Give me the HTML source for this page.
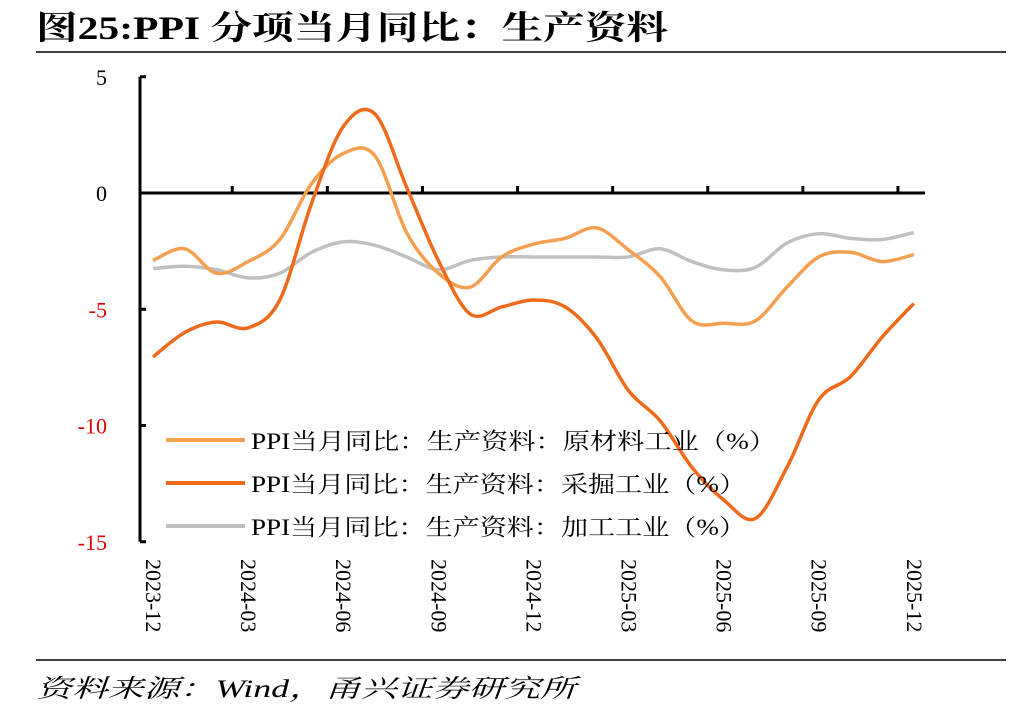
<!DOCTYPE html>
<html><head><meta charset="utf-8">
<style>
body{margin:0;background:#fff;width:1012px;height:706px;overflow:hidden;font-family:"Liberation Serif","Noto Serif CJK SC",serif;}
svg text{font-family:"Liberation Serif","Noto Serif CJK SC",serif;}
</style></head>
<body>
<svg id="chart" width="1012" height="706" xmlns="http://www.w3.org/2000/svg">
<text x="36" y="39" font-size="33" font-weight="bold" fill="#000" textLength="632" lengthAdjust="spacingAndGlyphs">图25:PPI 分项当月同比：生产资料</text>
<line x1="36" y1="52" x2="1006" y2="52" stroke="#000" stroke-width="1.5"/>
<line x1="36" y1="660" x2="1006" y2="660" stroke="#000" stroke-width="1.5"/>
<text x="36" y="697" font-size="25" font-style="italic" fill="#000" textLength="540" lengthAdjust="spacingAndGlyphs">资料来源：Wind，甬兴证券研究所</text>
<g id="plot"></g>
</svg>
<script>
const categories=["2023-12","2024-01","2024-02","2024-03","2024-04","2024-05","2024-06","2024-07","2024-08","2024-09","2024-10","2024-11","2024-12","2025-01","2025-02","2025-03","2025-04","2025-05","2025-06","2025-07","2025-08","2025-09","2025-10","2025-11","2025-12"];
const rawMaterials=[-2.9,-2.4,-3.45,-2.95,-2.0,0.4,1.7,1.6,-1.7,-3.45,-4.05,-2.75,-2.2,-1.95,-1.5,-2.45,-3.6,-5.5,-5.6,-5.5,-4.05,-2.75,-2.55,-2.95,-2.65];
const mining=[-7.05,-6.0,-5.55,-5.8,-4.6,-0.45,2.85,3.4,0.25,-2.9,-5.2,-4.9,-4.6,-4.9,-6.25,-8.5,-9.8,-11.8,-13.2,-14.0,-11.8,-8.9,-7.9,-6.2,-4.75];
const processing=[-3.25,-3.15,-3.3,-3.65,-3.45,-2.55,-2.1,-2.25,-2.75,-3.3,-2.9,-2.75,-2.75,-2.75,-2.75,-2.75,-2.4,-2.95,-3.3,-3.2,-2.15,-1.75,-1.95,-2.0,-1.7];
const yTicks=[5,0,-5,-10,-15];
const seriesNames=["PPI当月同比：生产资料：原材料工业（%）","PPI当月同比：生产资料：采掘工业（%）","PPI当月同比：生产资料：加工工业（%）"];

const NS="http://www.w3.org/2000/svg";
const g=document.getElementById('plot');
const X0=153,DX=31.7,AXX=140;
const xPos=i=>X0+DX*i;
const yPos=v=>193-v*23.25;
function mk(tag,attrs,parent){const e=document.createElementNS(NS,tag);for(const k in attrs)e.setAttribute(k,attrs[k]);(parent||g).appendChild(e);return e;}

let ya=mk('line',{x1:AXX,y1:yPos(5),x2:AXX,y2:yPos(-15),stroke:'#000','stroke-width':3});


yTicks.forEach(v=>{
  let t=mk('line',{x1:AXX,y1:yPos(v),x2:AXX+6,y2:yPos(v),stroke:'#000','stroke-width':3});
  
  
  let l=mk('text',{x:AXX-33,y:yPos(v)+8,'font-size':22,'text-anchor':'end',fill:v<0?'#e00000':'#000'});
  l.textContent=v;
  
  
});
let xa=mk('line',{x1:AXX,y1:yPos(0),x2:925,y2:yPos(0),stroke:'#000','stroke-width':3});


for(let i=2.5;i<categories.length;i+=3){
  let t=mk('line',{x1:xPos(i),y1:yPos(0),x2:xPos(i),y2:yPos(0)-7,stroke:'#000','stroke-width':3});
  
  
}
categories.forEach((c,i)=>{
  if(i%3!==0)return;
  let l=mk('text',{x:0,y:0,'font-size':22,fill:'#000',transform:`translate(${xPos(i)-7},559) rotate(90)`});
  l.textContent=c;
  
  
});
function path(vals){
  const p=vals.map((v,i)=>[xPos(i),yPos(v)]);
  let d=`M${p[0][0]},${p[0][1]}`;
  for(let i=0;i<p.length-1;i++){
    const p0=p[Math.max(0,i-1)],p1=p[i],p2=p[i+1],p3=p[Math.min(p.length-1,i+2)];
    const c1=[p1[0]+(p2[0]-p0[0])/6,p1[1]+(p2[1]-p0[1])/6];
    const c2=[p2[0]-(p3[0]-p1[0])/6,p2[1]-(p3[1]-p1[1])/6];
    d+=` C${c1[0]},${c1[1]} ${c2[0]},${c2[1]} ${p2[0]},${p2[1]}`;
  }
  return d;
}
const colors=['#f4a050','#f06a1c','#c0c0c0'];
const series=[rawMaterials,mining,processing];
const names=['line-raw-materials','line-mining','line-processing'];
[2,0,1].forEach(k=>{
  let p=mk('path',{d:path(series[k]),fill:'none',stroke:colors[k],'stroke-width':3.5,'stroke-linejoin':'round'});
  
  
});
const legendLens=[525,495,495];
seriesNames.forEach((n,k)=>{
  const y=440+k*43;
  let ln=mk('line',{x1:166,y1:y,x2:245,y2:y,stroke:colors[k],'stroke-width':4});
  
  
  let t=mk('text',{x:251,y:y+9,'font-size':23,fill:'#000',textLength:legendLens[k],lengthAdjust:'spacingAndGlyphs'});
  t.textContent=n;
  
  
});
</script>
</body></html>
